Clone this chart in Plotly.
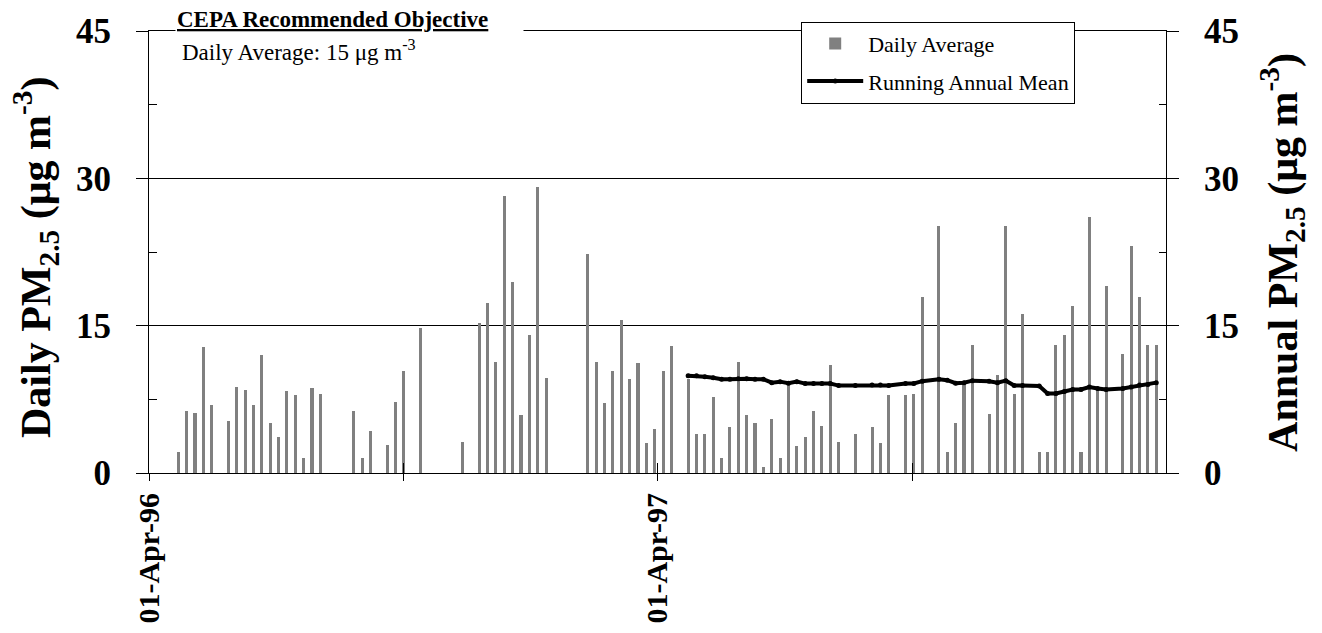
import plotly.graph_objects as go

# ---- data ----
sample_dates = [
    "1996-04-22","1996-04-28","1996-05-04","1996-05-10","1996-05-16","1996-05-28","1996-06-03","1996-06-09",
    "1996-06-15","1996-06-21","1996-06-27","1996-07-03","1996-07-09","1996-07-15","1996-07-21","1996-07-27",
    "1996-08-02","1996-08-26","1996-09-01","1996-09-07","1996-09-19","1996-09-25","1996-10-01","1996-10-13",
    "1996-11-12","1996-11-24","1996-11-30","1996-12-06","1996-12-12","1996-12-18","1996-12-24","1996-12-30",
    "1997-01-05","1997-01-11","1997-02-10","1997-02-16","1997-02-22","1997-02-28","1997-03-06","1997-03-12",
    "1997-03-18","1997-03-24","1997-03-30","1997-04-05","1997-04-11",
    "1997-04-23","1997-04-29","1997-05-05","1997-05-11","1997-05-17","1997-05-23","1997-05-29","1997-06-04",
    "1997-06-10","1997-06-16","1997-06-22","1997-06-28","1997-07-04","1997-07-10","1997-07-16","1997-07-22",
    "1997-07-28","1997-08-03","1997-08-09","1997-08-21","1997-09-02","1997-09-08","1997-09-14","1997-09-26",
    "1997-10-02","1997-10-08","1997-10-20","1997-10-26","1997-11-01","1997-11-07","1997-11-13","1997-11-25",
    "1997-12-01","1997-12-07","1997-12-13","1997-12-19","1997-12-31","1998-01-06","1998-01-12","1998-01-18",
    "1998-01-24","1998-01-30","1998-02-05","1998-02-11","1998-02-17","1998-03-01","1998-03-07","1998-03-13",
    "1998-03-19","1998-03-25",
]
daily_pm25 = [
    2.1, 6.3, 6.1, 12.8, 6.9, 5.3, 8.8, 8.5, 6.9, 12.0, 5.1, 3.7, 8.3, 7.9, 1.5, 8.7,
    8.0, 6.3, 1.5, 4.3, 2.9, 7.2, 10.4, 14.8, 3.2, 15.3, 17.3, 11.3, 28.2, 19.4, 5.9, 14.0,
    29.1, 9.7, 22.3, 11.3, 7.1, 10.4, 15.6, 9.6, 11.2, 3.1, 4.5, 10.4, 12.9,
    9.6, 4.0, 4.0, 7.7, 1.5, 4.7, 11.3, 5.9, 5.1, 0.6, 5.5, 1.5, 9.2, 2.7, 3.7, 6.3,
    4.8, 11.0, 3.2, 4.0, 4.7, 3.1, 7.9, 7.9, 8.0, 17.9, 25.1, 2.1, 5.1, 9.0, 13.0, 6.0,
    10.0, 25.1, 8.0, 16.2, 2.1, 2.1, 13.0, 14.1, 17.0, 2.1, 26.1, 8.5, 19.0, 12.1, 23.1, 17.9,
    13.0, 13.0,
]
mean_dates = sample_dates[45:]
running_annual_mean = [
    9.9, 9.9, 9.8, 9.7, 9.55, 9.55, 9.6,
    9.6, 9.55, 9.55, 9.2, 9.3, 9.15, 9.3, 9.1, 9.1, 9.1, 9.1, 8.9,
    8.9,
    8.95, 8.95, 8.9,
    9.12, 9.12, 9.35,
    9.55, 9.45, 9.15, 9.2, 9.4,
    9.35, 9.2, 9.4, 8.9, 8.9,
    8.85, 8.1, 8.1, 8.3, 8.5, 8.5, 8.75, 8.6, 8.5,
    8.6, 8.75, 8.95, 9.0, 9.2,
]
x_tick_vals = ["1996-04-01", "1996-10-01", "1997-04-01", "1997-10-01"]
x_tick_text = ["01-Apr-96", "", "01-Apr-97", ""]
y_tick_vals = [0, 15, 30, 45]
y_minor_vals = [7.5, 22.5, 37.5]
x_range = ["1996-04-01", "1998-04-01"]
y_range = [0, 45]

SERIF = "Liberation Serif"
DAY_MS = 86400000

fig = go.Figure()
fig.add_trace(go.Bar(
    x=sample_dates, y=daily_pm25, name="Daily Average",
    marker=dict(color="#808080", line=dict(width=0)),
    width=2.2 * DAY_MS, legendgroup="a",
))
fig.add_trace(go.Scatter(
    x=mean_dates, y=running_annual_mean, name="Running Annual Mean",
    mode="lines+markers", line=dict(color="black", width=4),
    marker=dict(color="black", size=5), xaxis="x2", yaxis="y2", legendgroup="b",
))

tickfont_y = dict(family=SERIF, size=35, color="black", weight="bold")

fig.update_layout(
    width=1322, height=633,
    margin=dict(l=149, r=156, t=31, b=160, autoexpand=False),
    paper_bgcolor="white", plot_bgcolor="white",
    bargap=0,
    showlegend=True,
    xaxis=dict(
        type="date", range=x_range, tickvals=x_tick_vals, ticktext=x_tick_text,
        tickangle=-90, ticks="outside", ticklen=7, tickcolor="black", tickwidth=1,
        showline=True, linecolor="black", linewidth=1, mirror=True,
        showgrid=False, zeroline=False, automargin=False,
        tickfont=dict(family=SERIF, size=30, color="black", weight="bold"),
        ticklabelstandoff=0,
    ),
    xaxis2=dict(
        type="date", range=x_range, overlaying="x", anchor="y2", side="bottom",
        tickvals=x_tick_vals, ticks="inside", ticklen=10, tickcolor="black",
        showticklabels=False, showline=False, showgrid=False, zeroline=False, automargin=False,
    ),
    yaxis=dict(
        range=y_range, tickvals=y_tick_vals, ticks="outside", ticklen=12,
        tickcolor="black", showline=True, linecolor="black", linewidth=1,
        showgrid=True, gridcolor="black", gridwidth=1, zeroline=False, automargin=False,
        tickfont=tickfont_y, ticklabelstandoff=18,
        minor=dict(tickvals=y_minor_vals, ticks="inside", ticklen=8, tickcolor="black", showgrid=False),
    ),
    yaxis2=dict(
        range=y_range, tickvals=y_tick_vals, overlaying="y", side="right", anchor="x2",
        ticks="outside", ticklen=12, tickcolor="black", showline=True, linecolor="black",
        linewidth=1, showgrid=False, zeroline=False, automargin=False,
        tickfont=tickfont_y, ticklabelstandoff=18,
        minor=dict(tickvals=y_minor_vals, ticks="inside", ticklen=7, tickcolor="black", showgrid=False),
    ),
    legend=dict(
        x=0.6413, y=1.021, xanchor="left", yanchor="top",
        bgcolor="white", bordercolor="black", borderwidth=1,
        font=dict(family=SERIF, size=22, color="black"),
        itemwidth=56, traceorder="grouped", tracegroupgap=6,
    ),
    annotations=[
        dict(text="<b>Daily PM<sub>2.5</sub> (μg m<sup>-3</sup>)</b>", xref="paper", yref="paper",
             x=-0.112, y=0.489, xanchor="center", yanchor="middle", textangle=-90, showarrow=False,
             font=dict(family=SERIF, size=42, color="black")),
        dict(text="<b>Annual PM<sub>2.5</sub> (μg m<sup>-3</sup>)</b>", xref="paper", yref="paper",
             x=1.114, y=0.5, xanchor="center", yanchor="middle", textangle=-90, showarrow=False,
             font=dict(family=SERIF, size=42, color="black")),
        dict(text="<b><u>CEPA Recommended Objective</u></b>", xref="paper", yref="paper",
             x=0.0251, y=1.0264, xanchor="left", yanchor="middle", showarrow=False,
             bgcolor="white", width=345, align="left",
             font=dict(family=SERIF, size=23, color="black")),
        dict(text="Daily Average: 15 μg m<sup>-3</sup>", xref="paper", yref="paper",
             x=0.0300, y=0.956, xanchor="left", yanchor="middle", showarrow=False,
             font=dict(family=SERIF, size=23, color="black")),
    ],
)

fig.write_html("out.html")
